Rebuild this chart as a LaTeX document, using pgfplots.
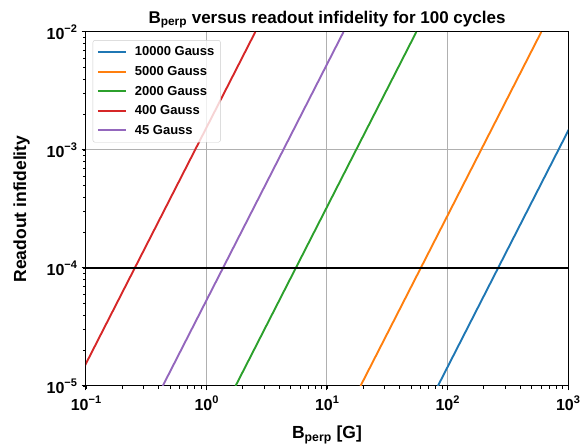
\documentclass[border=0pt]{standalone}
\usepackage{pgfplots}
\pgfplotsset{compat=1.18}
\usepackage{fontspec}
\setmainfont{Liberation Sans}
\definecolor{c0}{HTML}{1F77B4}
\definecolor{c1}{HTML}{FF7F0E}
\definecolor{c2}{HTML}{2CA02C}
\definecolor{c3}{HTML}{D62728}
\definecolor{c4}{HTML}{9467BD}
\newcommand{\tl}[1]{10\raisebox{0.45em}{\fontsize{11}{11}\selectfont #1}}
\begin{document}
\begin{tikzpicture}
\begin{axis}[
  scale only axis,
  width=482pt, height=354pt,
  xmode=log, ymode=log,
  xmin=0.1, xmax=1000, ymin=1e-5, ymax=1e-2,
  axis line style={line width=1pt},
  xtick={0.1,1,10,100,1000},
  xticklabels={\tl{−1},\tl{0},\tl{1},\tl{2},\tl{3}},
  ytick={1e-5,1e-4,1e-3,1e-2},
  yticklabels={\tl{−5},\tl{−4},\tl{−3},\tl{−2}},
  minor x tick num=8, minor y tick num=8,
  tick align=outside,
  tick pos=left,
  major tick length=4.5pt, minor tick length=2.6pt,
  every tick/.style={black, line width=1pt},
  minor tick style={line width=0.8pt},
  grid=major,
  major grid style={color=black!31, line width=1pt},
  tick label style={font=\fontsize{16}{16}\selectfont\bfseries},
  xticklabel style={yshift=-2pt},
  yticklabel style={xshift=-1pt},
  label style={font=\fontsize{17.5}{18}\selectfont\bfseries},
  xlabel={B\textsubscript{perp} [G]},
  ylabel={Readout infidelity},
  xlabel style={yshift=-8pt},
  ylabel style={yshift=10pt},
  title={B\textsubscript{perp} versus readout infidelity for 100 cycles},
  title style={font=\fontsize{17}{17}\selectfont\bfseries, yshift=-6pt},
  legend style={font=\fontsize{13}{13}\selectfont\bfseries, draw=black!20, rounded corners=2pt,
    fill=white, fill opacity=0.8, text opacity=1, at={(0.014,0.977)}, anchor=north west,
    inner xsep=4pt, inner ysep=4.5pt, row sep=5pt},
  legend cell align=left,
  legend image code/.code={\draw[#1, line width=2pt] (0pt,0pt) -- (28pt,0pt); \path (34pt,0pt);},
  clip=true,
]
\coordinate (bl) at (rel axis cs:0,0);
\coordinate (tr) at (rel axis cs:1,1);
\addplot[c0, line width=1.9pt] coordinates {(83.2,1e-5) (263,1e-4) (2630,1e-2)};
\addlegendentry{10000 Gauss}
\addplot[c1, line width=1.9pt] coordinates {(18.97,1e-5) (60.0,1e-4) (600,1e-2)};
\addlegendentry{5000 Gauss}
\addplot[c2, line width=1.9pt] coordinates {(1.742,1e-5) (5.51,1e-4) (55.1,1e-2)};
\addlegendentry{2000 Gauss}
\addplot[c3, line width=1.9pt] coordinates {(0.0803,1e-5) (0.254,1e-4) (2.54,1e-2)};
\addlegendentry{400 Gauss}
\addplot[c4, line width=1.9pt] coordinates {(0.433,1e-5) (1.37,1e-4) (13.7,1e-2)};
\addlegendentry{45 Gauss}
\addplot[black, line width=2.6pt, forget plot] coordinates {(0.1,1e-4) (1000,1e-4)};
\end{axis}
\pgfresetboundingbox
\path ([shift={(-86pt,-60pt)}]bl) rectangle ([shift={(20pt,32pt)}]tr);
\end{tikzpicture}
\end{document}
